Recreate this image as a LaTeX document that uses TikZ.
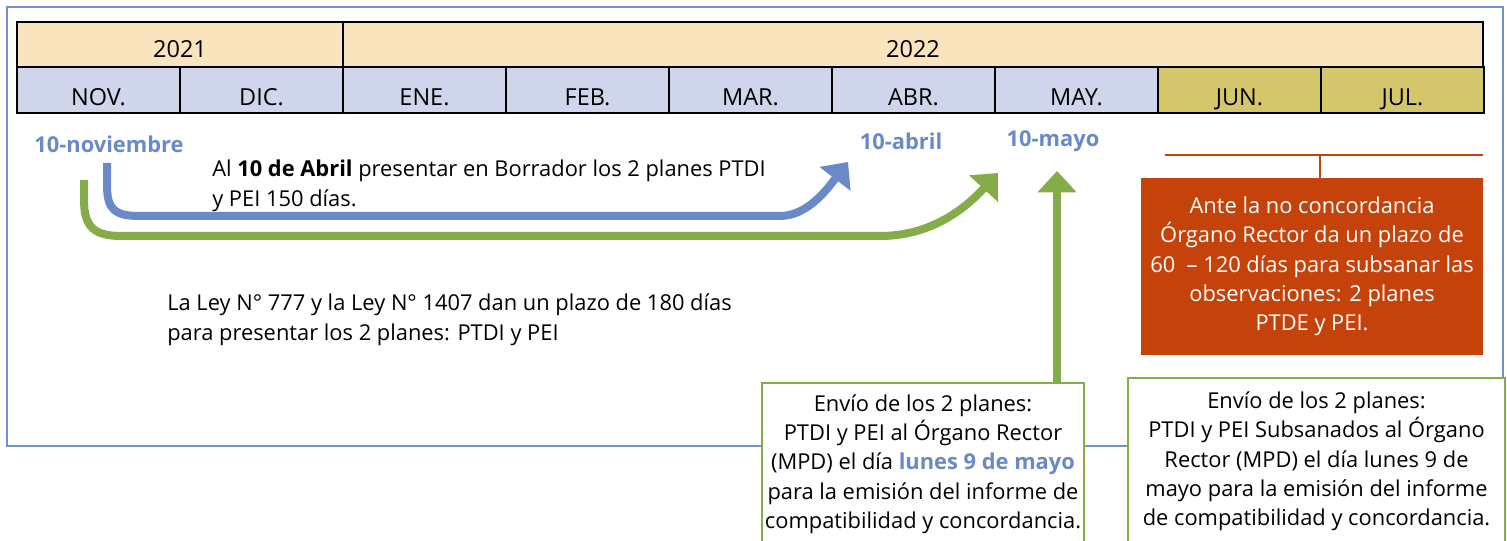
\documentclass[tikz,border=0pt]{standalone}
\usepackage{fontspec}
\setmainfont{Open Sans}
\usepackage{xcolor}
\usepackage{tikz}
\usetikzlibrary{arrows.meta, positioning}

\definecolor{marco}{RGB}{114,146,207}
\definecolor{azul}{RGB}{106,138,199}
\definecolor{verde}{RGB}{132,172,72}
\definecolor{naranja}{RGB}{197,66,11}
\definecolor{anio}{RGB}{249,228,190}
\definecolor{mes}{RGB}{207,213,234}
\definecolor{mesfin}{RGB}{212,199,107}

\begin{document}
\begin{tikzpicture}[
    x=0.75pt, y=-0.75pt,
    cell/.style={draw=black, line width=1.5pt, inner sep=0pt, text depth=0pt, font=\fontsize{17.6}{20}\selectfont},
    year/.style={cell, fill=anio, text height=19.5pt, minimum height=45*0.75pt},
    month/.style={cell, fill=mes, text height=23pt, minimum width=163*0.75pt, minimum height=46*0.75pt},
    fecha/.style={text=azul, font=\fontsize{16.4}{20}\selectfont\bfseries},
    nota/.style={align=left, font=\fontsize{16.4}{22.5}\selectfont, inner sep=0pt},
    caja/.style={align=center, font=\fontsize{16.4}{22}\selectfont, inner sep=0pt},
    flecha/.style={line width=6pt, -{Triangle[width=28.5pt, length=16pt]}},
]

\clip (0,0) rectangle (1507,541);
\fill[white] (0,0) rectangle (1507,541);
\draw[marco, line width=1.5pt] (7,7) rectangle (1503,446);

\node[year, minimum width=326*0.75pt] (y2021) at (180,44.5) {2021};
\node[year, minimum width=1140*0.75pt] (y2022) at (913,44.5) {2022};

\node[month] (nov) at (98.5,90) {NOV.};
\node[month] (dic) at (261.5,90) {DIC.};
\node[month] (ene) at (424.5,90) {ENE.};
\node[month] (feb) at (587.5,90) {FEB.};
\node[month] (mar) at (750.5,90) {MAR.};
\node[month] (abr) at (913.5,90) {ABR.};
\node[month] (may) at (1076.5,90) {MAY.};
\node[month, fill=mesfin] (jun) at (1239.5,90) {JUN.};
\node[month, fill=mesfin] (jul) at (1402.5,90) {JUL.};

\node[fecha] (dNov) at (109,144) {10-noviembre};
\node[fecha] (dAbr) at (901,141) {10-abril};
\node[fecha] (dMay) at (1053,141) {10-mayo};

\node[nota, anchor=west] (borrador) at (212,186)
    {Al \textbf{10 de Abril} presentar en Borrador los 2 planes PTDI\\y PEI 150 días.};
\node[nota, anchor=west] (ley) at (167,320)
    {La Ley N° 777 y la Ley N° 1407 dan un plazo de 180 días\\para presentar los 2 planes: PTDI y PEI};

\node[caja, fill=naranja, text=white, minimum width=342*0.75pt, minimum height=177*0.75pt] (plazo) at (1312,266.5)
    {Ante la no concordancia\\Órgano Rector da un plazo de\\60 \ – 120 días para subsanar las\\observaciones: 2 planes\\PTDE y PEI.};

\node[caja, draw=verde, line width=1.5pt, fill=white, minimum width=322*0.75pt, minimum height=162*0.75pt] (envio) at (923,464)
    {Envío de los 2 planes:\\PTDI y PEI al Órgano Rector\\(MPD) el día \textcolor{azul}{\textbf{lunes 9 de mayo}}\\para la emisión del informe de\\compatibilidad y concordancia.};
\node[caja, draw=verde, line width=1.5pt, fill=white, minimum width=377*0.75pt, minimum height=167*0.75pt] (subsana) at (1316.5,461.5)
    {Envío de los 2 planes:\\PTDI y PEI Subsanados al Órgano\\Rector (MPD) el día lunes 9 de\\mayo para la emisión del informe\\de compatibilidad y concordancia.};

\coordinate (azulIni) at (107,163);
\coordinate (azulFin) at (848,162);
\coordinate (verdeIni) at (84,180);
\coordinate (verdeFin) at (998,173);
\coordinate (mayoFin) at (1057,171);
\coordinate (llaveIzq) at (1165,155);
\coordinate (llaveDer) at (1483,155);
\coordinate (llaveMed) at (1320,155);

\draw[flecha, azul] (azulIni) -- (107,185) .. controls (107,210) and (115,216) .. (140,216)
    -- (780,216) .. controls (808,216) and (828,188) .. (azulFin);
\draw[flecha, verde] (verdeIni) -- (84,200) .. controls (84,228) and (95,236) .. (122,236)
    -- (880,236) .. controls (928,236) and (962,212) .. (verdeFin);
\draw[flecha, verde] (envio.north -| mayoFin) -- (mayoFin);

\draw[naranja, line width=2.2pt] (llaveIzq) -- (llaveDer);
\draw[naranja, line width=2.2pt] (llaveMed) -- (llaveMed |- plazo.north);

\end{tikzpicture}
\end{document}
